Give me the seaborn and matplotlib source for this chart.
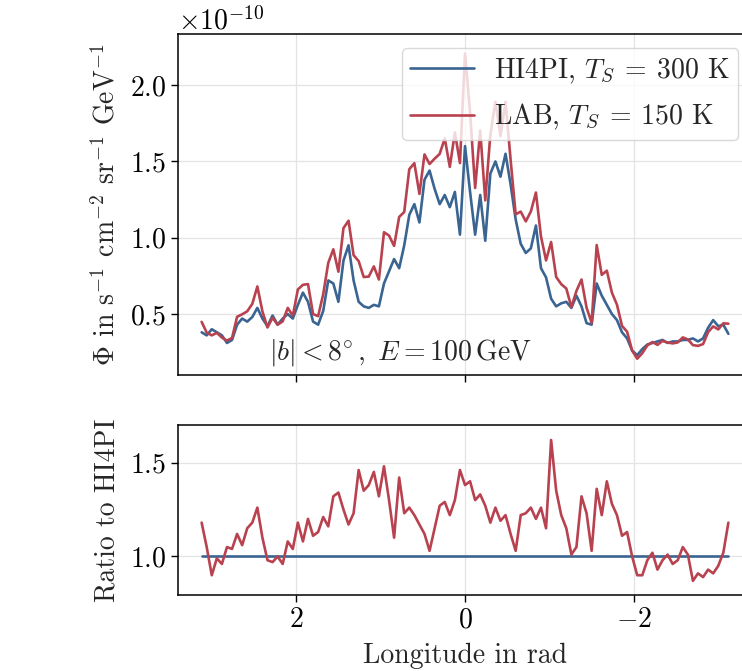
import numpy as np
import pandas as pd
import matplotlib
matplotlib.use("Agg")
import matplotlib.pyplot as plt
import seaborn as sns

# Galactic longitude grid (rad), from +pi side to -pi side
lon = np.round(np.arange(3.12, -3.13, -0.06), 2)

# HI4PI flux, units of 1e-10 s^-1 cm^-2 sr^-1 GeV^-1
hi4pi = [0.38, 0.36, 0.40, 0.38, 0.36, 0.31, 0.33, 0.43, 0.47, 0.45,
         0.48, 0.54, 0.47, 0.42, 0.49, 0.43, 0.47, 0.50, 0.47, 0.56,
         0.64, 0.58, 0.45, 0.43, 0.52, 0.72, 0.70, 0.58, 0.85, 0.95,
         0.72, 0.58, 0.55, 0.54, 0.56, 0.55, 0.70, 0.78, 0.86, 0.80,
         0.95, 1.15, 1.22, 1.10, 1.38, 1.44, 1.32, 1.22, 1.28, 1.20,
         1.30, 1.02, 1.60, 1.30, 1.02, 1.28, 0.98, 1.42, 1.50, 1.40,
         1.55, 1.35, 1.12, 0.96, 0.90, 0.93, 1.08, 0.80, 0.74, 0.60,
         0.55, 0.57, 0.58, 0.54, 0.62, 0.55, 0.44, 0.43, 0.70, 0.62,
         0.56, 0.50, 0.46, 0.38, 0.34, 0.26, 0.23, 0.27, 0.30, 0.31,
         0.32, 0.33, 0.31, 0.32, 0.32, 0.33, 0.33, 0.34, 0.32, 0.34,
         0.41, 0.46, 0.42, 0.43, 0.37]

# Ratio LAB / HI4PI
ratio = [1.18, 1.05, 0.90, 0.99, 0.96, 1.05, 1.04, 1.12, 1.06, 1.15,
         1.18, 1.26, 1.10, 0.98, 0.97, 1.00, 0.96, 1.08, 1.04, 1.18,
         1.08, 1.20, 1.11, 1.13, 1.21, 1.16, 1.32, 1.34, 1.25, 1.17,
         1.23, 1.46, 1.35, 1.38, 1.45, 1.32, 1.48, 1.30, 1.10, 1.42,
         1.23, 1.26, 1.22, 1.17, 1.12, 1.03, 1.15, 1.27, 1.29, 1.22,
         1.30, 1.46, 1.38, 1.40, 1.30, 1.33, 1.27, 1.18, 1.26, 1.19,
         1.22, 1.12, 1.03, 1.22, 1.23, 1.26, 1.20, 1.26, 1.15, 1.62,
         1.35, 1.22, 1.15, 1.01, 1.05, 1.32, 1.23, 1.03, 1.36, 1.22,
         1.40, 1.28, 1.22, 1.11, 1.13, 1.00, 0.90, 0.90, 0.98, 1.02,
         0.93, 0.98, 1.01, 0.96, 0.98, 1.05, 1.01, 0.87, 0.91, 0.89,
         0.93, 0.91, 0.95, 1.02, 1.18]

labels = [r"HI4PI, $T_S \:=\: 300$ K", r"LAB, $T_S \:=\: 150$ K"]
colors = ["#3a6491", "#b8424f"]

hi = np.array(hi4pi) * 1e-10
lab = hi * np.array(ratio)
df = pd.DataFrame({
    "lon": np.concatenate([lon, lon]),
    "flux": np.concatenate([hi, lab]),
    "ratio": np.concatenate([hi / hi, lab / hi]),
    "survey": [labels[0]] * len(lon) + [labels[1]] * len(lon),
})

sns.set_style("whitegrid")
plt.rcParams.update({
    "font.family": "serif",
    "font.serif": ["cmr10", "DejaVu Serif"],
    "mathtext.fontset": "cm",
    "axes.formatter.use_mathtext": True,
    "font.size": 20,
    "axes.labelsize": 20,
    "xtick.labelsize": 20,
    "ytick.labelsize": 20,
    "legend.fontsize": 20,
    "axes.edgecolor": "black",
    "axes.linewidth": 1.1,
    "grid.color": "#e3e3e3",
    "grid.linewidth": 0.9,
    "xtick.bottom": True,
    "ytick.left": True,
    "xtick.color": "black",
    "ytick.color": "black",
    "xtick.major.size": 5,
    "ytick.major.size": 5,
    "xtick.major.width": 1.0,
    "ytick.major.width": 1.0,
    "axes.labelpad": 7,
})

fig = plt.figure(figsize=(7.42, 6.71), dpi=100)
ax1 = fig.add_axes([0.2399, 0.4411, 0.7736, 0.5082])
ax2 = fig.add_axes([0.2399, 0.1133, 0.7736, 0.2534], sharex=ax1)

pal = dict(zip(labels, colors))
sns.lineplot(data=df, x="lon", y="flux", hue="survey", palette=pal, ax=ax1,
             linewidth=1.9, legend=True)
sns.lineplot(data=df, x="lon", y="ratio", hue="survey", palette=pal, ax=ax2,
             linewidth=1.9, legend=False)

ax1.set_xlim(3.40, -3.40)
ax1.set_xticks([2, 0, -2])
ax1.tick_params(labelbottom=False)
ax1.set_xlabel("")
ax1.set_ylabel(r"$\Phi$ in s$^{-1}$ cm$^{-2}$ sr$^{-1}$ GeV$^{-1}$")
ax1.set_yticks([0.5e-10, 1.0e-10, 1.5e-10, 2.0e-10])
ax1.set_ylim(0.10e-10, 2.335e-10)

ax1.text(0.387, 0.065, r"$|b| < 8\!^\circ,\ E = 100\,\mathrm{GeV}$",
         transform=ax1.transAxes, ha="center", va="center")

leg = ax1.legend(loc="upper right", handlelength=2.3, handletextpad=0.7,
                 framealpha=0.8, borderpad=0.3, labelspacing=0.58)
leg.get_frame().set_edgecolor("#d0d0d0")

ax2.set_ylim(0.795, 1.70)
ax2.set_yticks([1.0, 1.5])
ax2.set_xlabel("Longitude in rad")
ax2.set_ylabel("Ratio to HI4PI")

for ax in (ax1, ax2):
    for s in ax.spines.values():
        s.set_color("black")

fig.savefig("out.png", dpi=100)
